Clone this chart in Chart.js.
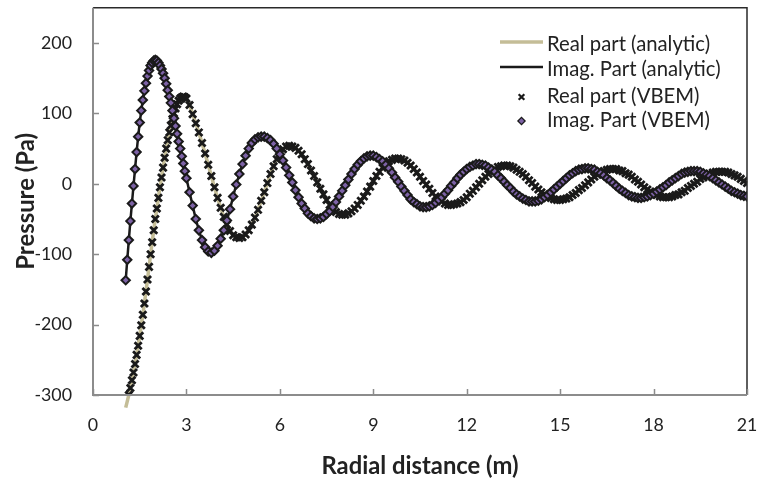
<!DOCTYPE html>
<html>
<head>
<meta charset="utf-8">
<script src="https://cdn.jsdelivr.net/npm/chart.js"></script>
<style>
html,body{margin:0;padding:0;background:#ffffff;}
#wrap{width:757px;height:483px;position:relative;}
</style>
</head>
<body>
<div id="wrap"><canvas id="c" width="757" height="483"></canvas></div>
<script>
// ---------------- data ----------------
const radialDistance = [
  1.05,1.1,1.15,1.2,1.25,1.3,1.35,1.4,1.45,1.5,
  1.55,1.6,1.65,1.7,1.75,1.8,1.85,1.9,1.95,2.0,
  2.05,2.1,2.15,2.2,2.25,2.3,2.35,2.4,2.45,2.5,
  2.55,2.6,2.65,2.7,2.75,2.8,2.85,2.9,2.95,3.0,
  3.1,3.2,3.3,3.4,3.5,3.6,3.7,3.8,3.9,4.0,
  4.1,4.2,4.3,4.4,4.5,4.6,4.7,4.8,4.9,5.0,
  5.1,5.2,5.3,5.4,5.5,5.6,5.7,5.8,5.9,6.0,
  6.1,6.2,6.3,6.4,6.5,6.6,6.7,6.8,6.9,7.0,
  7.1,7.2,7.3,7.4,7.5,7.6,7.7,7.8,7.9,8.0,
  8.1,8.2,8.3,8.4,8.5,8.6,8.7,8.8,8.9,9.0,
  9.1,9.2,9.3,9.4,9.5,9.6,9.7,9.8,9.9,10.0,
  10.1,10.2,10.3,10.4,10.5,10.6,10.7,10.8,10.9,11.0,
  11.1,11.2,11.3,11.4,11.5,11.6,11.7,11.8,11.9,12.0,
  12.1,12.2,12.3,12.4,12.5,12.6,12.7,12.8,12.9,13.0,
  13.1,13.2,13.3,13.4,13.5,13.6,13.7,13.8,13.9,14.0,
  14.1,14.2,14.3,14.4,14.5,14.6,14.7,14.8,14.9,15.0,
  15.1,15.2,15.3,15.4,15.5,15.6,15.7,15.8,15.9,16.0,
  16.1,16.2,16.3,16.4,16.5,16.6,16.7,16.8,16.9,17.0,
  17.1,17.2,17.3,17.4,17.5,17.6,17.7,17.8,17.9,18.0,
  18.1,18.2,18.3,18.4,18.5,18.6,18.7,18.8,18.9,19.0,
  19.1,19.2,19.3,19.4,19.5,19.6,19.7,19.8,19.9,20.0,
  20.1,20.2,20.3,20.4,20.5,20.6,20.7,20.8,20.9,21.0
];

const realAnalytic = [
  -318,-309,-300,-290,-279,-268,-256,-243,-230,-216,
  -201,-186,-170,-153,-136,-118,-100,-83,-66,-50,
  -35,-20,-5,9,23,37,50,62,73,83,
  92,100,107,113,118,121,123,124,123,121,
  112,99,86,73,58,43,27,11,-5,-20,
  -34,-47,-58,-67,-73,-76,-77,-76,-72,-66,
  -58,-48,-37,-24,-12,1,14,25,35,43,
  49,53,54,53,51,47,42,35,28,19,
  11,2,-7,-15,-23,-30,-35,-40,-43,-44,
  -44,-42,-39,-35,-30,-24,-18,-11,-4,4,
  11,17,23,28,32,34,36,36,35,33,
  30,26,21,16,10,4,-1,-7,-13,-18,
  -22,-25,-28,-30,-30,-29,-28,-26,-23,-19,
  -14,-10,-5,0,5,10,14,18,21,24,
  25,26,26,25,23,20,17,14,10,5,
  1,-4,-8,-12,-15,-18,-20,-22,-23,-23,
  -22,-21,-19,-16,-13,-9,-6,-2,2,6,
  10,13,16,18,20,21,21,21,19,18,
  15,13,10,6,3,-1,-5,-8,-11,-14,
  -16,-18,-19,-19,-19,-18,-16,-15,-12,-10,
  -6,-3,0,3,7,9,12,14,16,17,
  17,17,17,16,14,12,10,7,4,1
];

const imagAnalytic = [
  -137,-108,-80,-53,-28,-3,21,45,67,87,
  104,119,132,143,153,161,168,172,175,176,
  175,172,168,163,157,150,142,133,124,115,
  104,93,82,71,60,50,39,29,18,8,
  -12,-31,-50,-66,-80,-90,-96,-98,-95,-88,
  -78,-66,-52,-36,-18,-1,14,28,40,50,
  58,63,66,67,67,65,62,57,50,42,
  33,23,12,2,-9,-19,-28,-35,-42,-46,
  -49,-50,-49,-47,-43,-39,-33,-26,-18,-10,
  -2,6,14,21,27,32,36,39,40,40,
  38,35,32,27,22,16,9,3,-4,-10,
  -16,-22,-26,-29,-32,-33,-33,-32,-30,-27,
  -23,-19,-14,-9,-3,2,8,13,17,21,
  24,26,28,28,27,26,23,20,17,12,
  8,3,-2,-6,-11,-15,-18,-21,-23,-25,
  -25,-25,-24,-22,-19,-16,-12,-8,-4,0,
  4,8,12,15,18,20,21,22,22,21,
  20,17,15,12,8,5,1,-3,-7,-10,
  -13,-16,-18,-19,-20,-20,-19,-18,-16,-14,
  -11,-8,-5,-2,2,5,8,11,14,16,
  17,18,18,18,17,15,13,11,8,5,
  2,-1,-4,-7,-10,-12,-14,-16,-17,-18
];

// VBEM results coincide with the analytic curves in the picture
const realVBEM = realAnalytic.slice();
const imagVBEM = imagAnalytic.slice();

const seriesNames = ['Real part (analytic)', 'Imag. Part (analytic)', 'Real part (VBEM)', 'Imag. Part (VBEM)'];
const xTickValues = [0, 3, 6, 9, 12, 15, 18, 21];
const yTickValues = [-300, -200, -100, 0, 100, 200];
const xTitle = 'Radial distance (m)';
const yTitle = 'Pressure (Pa)';

// ---------------- styling helpers ----------------
const FAMILY = 'Lato, "Open Sans", "DejaVu Sans", sans-serif';
function fitSize(text, target, weight) {
  const c = document.createElement('canvas').getContext('2d');
  c.font = (weight || 'normal') + ' 100px ' + FAMILY;
  return Math.round(100 * target / c.measureText(text).width * 10) / 10;
}
const tickSize = fitSize('200', 31);
const legendSize = fitSize(seriesNames[0], 163);
const xTitleSize = fitSize(xTitle, 197, 'bold');
const yTitleSize = fitSize(yTitle, 137, 'bold');

const TAN = '#c4bd97';
const DARK = '#1a1a1a';
const PURPLE = '#7d62a6';
const AXIS = '#8c8c8c';
const TEXT = '#222222';

function pts(xs, ys) { return xs.map((x, i) => ({ x: x, y: ys[i] })); }

function drawMarker(ctx, ds, x, y) {
  ctx.save();
  ctx.fillStyle = ds.pointBackgroundColor;
  ctx.strokeStyle = ds.pointBorderColor;
  ctx.lineWidth = ds.pointBorderWidth;
  Chart.helpers.drawPoint(ctx, {
    pointStyle: ds.pointStyle, radius: ds.pointRadius, rotation: 0,
    borderWidth: ds.pointBorderWidth
  }, x, y);
  ctx.restore();
}

// ---------------- plugin: frame, inward ticks, in-plot legend ----------------
const frameLegend = {
  id: 'frameLegend',
  afterDraw(chart) {
    const { ctx, chartArea: a, scales } = chart;
    ctx.save();
    ctx.strokeStyle = '#2a2a2a';
    ctx.lineWidth = 1.5;
    ctx.beginPath();
    ctx.moveTo(a.left, a.top); ctx.lineTo(a.right, a.top); ctx.lineTo(a.right, a.bottom);
    ctx.stroke();
    ctx.strokeStyle = AXIS;
    ctx.lineWidth = 2;
    ctx.beginPath();
    ctx.moveTo(a.left, a.top); ctx.lineTo(a.left, a.bottom); ctx.lineTo(a.right, a.bottom);
    ctx.stroke();
    ctx.lineWidth = 1.5;
    ctx.beginPath();
    yTickValues.forEach(v => {
      const py = Math.round(scales.y.getPixelForValue(v)) + 0.5;
      ctx.moveTo(a.left, py); ctx.lineTo(a.left + 6, py);
    });
    xTickValues.forEach(v => {
      const px = Math.round(scales.x.getPixelForValue(v)) + 0.5;
      ctx.moveTo(px, a.bottom); ctx.lineTo(px, a.bottom - 6);
    });
    ctx.stroke();

    const rows = [44, 69, 96, 120];
    const x0 = 500, x1 = 543, xt = 547;
    ctx.font = legendSize + 'px ' + FAMILY;
    ctx.textBaseline = 'middle';
    ctx.textAlign = 'left';
    chart.data.datasets.forEach((ds, i) => {
      const y = rows[i];
      if (ds.showLine !== false) {
        ctx.strokeStyle = ds.borderColor;
        ctx.lineWidth = ds.borderWidth;
        ctx.beginPath(); ctx.moveTo(x0, y - 2); ctx.lineTo(x1, y - 2); ctx.stroke();
      } else {
        drawMarker(ctx, Object.assign({}, ds, { pointRadius: ds.legendRadius, pointBorderWidth: ds.legendBorder }), (x0 + x1) / 2, y + 1);
      }
      ctx.fillStyle = TEXT;
      ctx.fillText(ds.label, xt, y);
    });
    ctx.restore();
  }
};

new Chart(document.getElementById('c'), {
  type: 'line',
  data: {
    datasets: [
      {
        label: seriesNames[0], data: pts(radialDistance, realAnalytic),
        borderColor: TAN, borderWidth: 3.5, pointRadius: 0, tension: 0,
        fill: false, clip: false, order: 4
      },
      {
        label: seriesNames[1], data: pts(radialDistance, imagAnalytic),
        borderColor: DARK, borderWidth: 2.5, pointRadius: 0, tension: 0,
        fill: false, order: 3
      },
      {
        label: seriesNames[2], data: pts(radialDistance, realVBEM),
        showLine: false, pointStyle: 'crossRot', pointRadius: 5, legendRadius: 4, legendBorder: 2.2,
        pointBorderWidth: 2.8, pointBorderColor: DARK, pointBackgroundColor: DARK,
        borderColor: DARK, backgroundColor: DARK, order: 2
      },
      {
        label: seriesNames[3], data: pts(radialDistance, imagVBEM),
        showLine: false, pointStyle: 'rectRot', pointRadius: 4.2, legendRadius: 3.6, legendBorder: 1.3,
        pointBorderWidth: 2, pointBorderColor: DARK, pointBackgroundColor: PURPLE,
        borderColor: DARK, backgroundColor: PURPLE, order: 1
      }
    ]
  },
  options: {
    responsive: false,
    devicePixelRatio: 1,
    animation: false,
    events: [],
    layout: { padding: { left: 0, right: 10, top: 7, bottom: 0 } },
    plugins: { legend: { display: false }, tooltip: { enabled: false } },
    scales: {
      x: {
        type: 'linear', min: 0, max: 21,
        afterBuildTicks: s => { s.ticks = xTickValues.map(v => ({ value: v })); },
        afterFit: s => { s.height = 88; s.paddingLeft = 0; s.paddingRight = 0; },
        grid: { display: false, drawTicks: false },
        border: { display: false },
        ticks: { color: TEXT, font: { family: FAMILY, size: tickSize }, padding: 20, maxRotation: 0, autoSkip: false },
        title: { display: true, text: xTitle, color: TEXT, font: { family: FAMILY, size: xTitleSize, weight: 'bold' }, padding: { top: 0, bottom: 2 } }
      },
      y: {
        type: 'linear', min: -300, max: 250,
        afterBuildTicks: s => { s.ticks = yTickValues.map(v => ({ value: v })); },
        afterFit: s => { s.width = 93; s.paddingTop = 0; s.paddingBottom = 0; },
        grid: { display: false, drawTicks: false },
        border: { display: false },
        ticks: { color: TEXT, font: { family: FAMILY, size: tickSize }, padding: 21, autoSkip: false },
        title: { display: true, text: yTitle, color: TEXT, font: { family: FAMILY, size: yTitleSize, weight: 'bold' }, padding: { top: 12, bottom: 0 } }
      }
    }
  },
  plugins: [frameLegend]
});
</script>
</body>
</html>
